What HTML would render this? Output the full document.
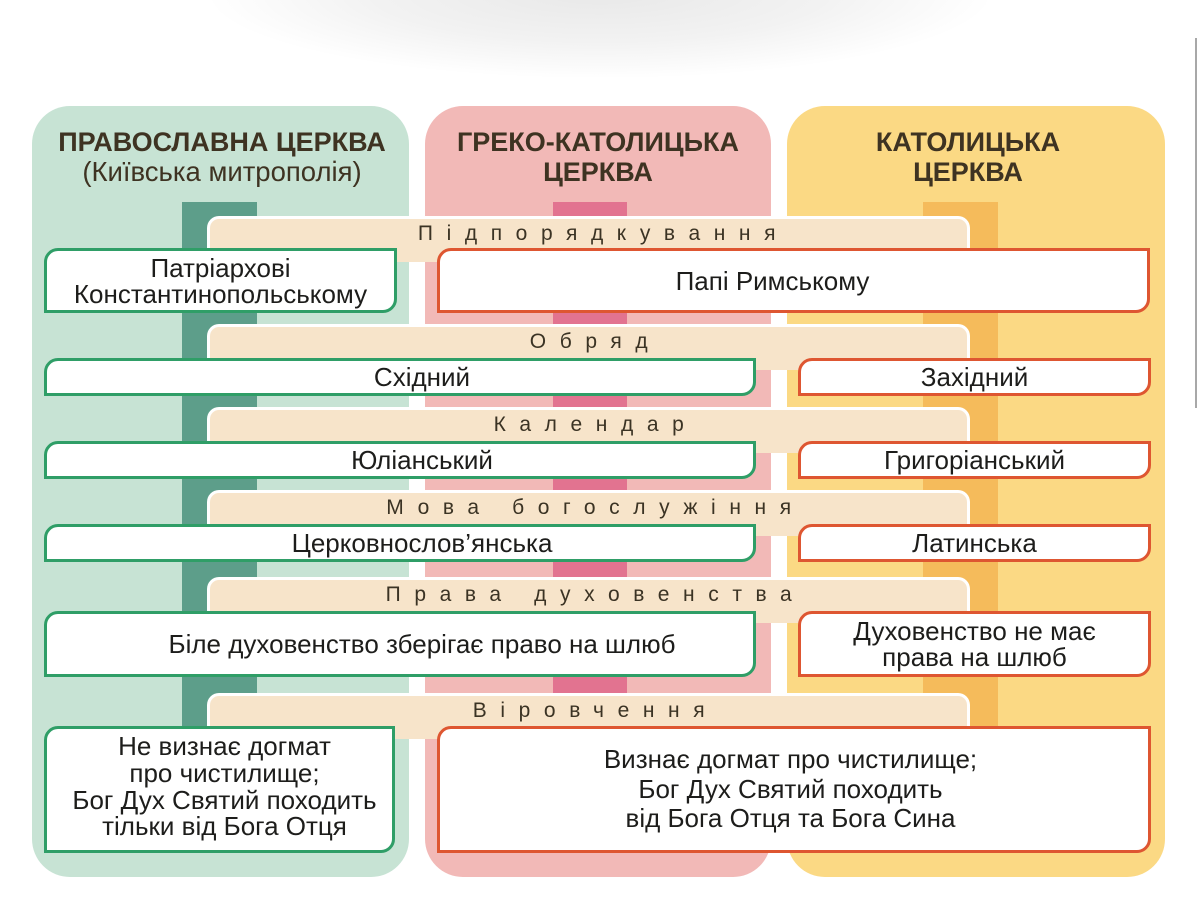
<!DOCTYPE html>
<html>
<head>
<meta charset="utf-8">
<style>
  html,body{margin:0;padding:0;}
  body{width:1200px;height:900px;position:relative;overflow:hidden;background:#fff;
       font-family:"Liberation Sans","Noto Sans CJK SC",sans-serif;color:#1d1d1b;}
  .abs{position:absolute;}
  .shadow{left:200px;top:-95px;width:800px;height:175px;border-radius:50%;
          background:radial-gradient(ellipse at center, rgba(0,0,0,0.09) 0%, rgba(0,0,0,0.05) 40%, rgba(0,0,0,0) 70%);}
  .scroll{left:1195px;top:38px;width:2px;height:370px;background:#a8a8a8;}
  .col{position:absolute;top:106px;height:771px;border-radius:38px;}
  .g{left:32px;width:377px;background:#c7e3d4;}
  .p{left:425px;width:346px;background:#f2b9b7;}
  .y{left:787px;width:378px;background:#fbd984;}
  .dbar{position:absolute;top:202px;height:530px;}
  .hdr{position:absolute;top:127px;text-align:center;font-size:27.5px;line-height:30px;color:#3e3322;white-space:nowrap;}
  .hdr b{font-weight:bold;font-size:27px;}
  .lbl{position:absolute;left:207px;width:763px;height:46px;box-sizing:border-box;
       background:#f7e4ca;border:3px solid #fff;border-bottom:none;border-radius:12px 12px 0 0;}
  .lbl span{position:absolute;left:0;right:0;top:2px;height:26px;line-height:26px;text-align:center;
       font-size:21px;letter-spacing:13.6px;padding-left:14px;color:#3b3324;}
  .box{position:absolute;box-sizing:border-box;background:#fff;border:3px solid;border-radius:14px 0 14px 0;
       display:flex;align-items:center;justify-content:center;text-align:center;font-size:26px;line-height:26px;white-space:nowrap;}
  .gb{border-color:#2f9e67;}
  .ob{border-color:#de5631;}
</style>
</head>
<body>
<div class="abs shadow"></div>
<div class="abs scroll"></div>

<div class="col g"></div>
<div class="col p"></div>
<div class="col y"></div>

<div class="dbar" style="left:182px;width:75px;background:#5d9e8a;"></div>
<div class="dbar" style="left:553px;width:74px;background:#e27390;"></div>
<div class="dbar" style="left:923px;width:75px;background:#f5bb5b;"></div>

<div class="hdr" style="left:32px;width:380px;"><b>ПРАВОСЛАВНА ЦЕРКВА</b><br>(Київська митрополія)</div>
<div class="hdr" style="left:425px;width:346px;"><b>ГРЕКО-КАТОЛИЦЬКА<br>ЦЕРКВА</b></div>
<div class="hdr" style="left:779px;width:378px;"><b>КАТОЛИЦЬКА<br>ЦЕРКВА</b></div>

<div class="lbl" style="top:216px;"><span style="padding-left:30px;">Підпорядкування</span></div>
<div class="lbl" style="top:324px;"><span>Обряд</span></div>
<div class="lbl" style="top:407px;"><span>Календар</span></div>
<div class="lbl" style="top:490px;"><span>Мова богослужіння</span></div>
<div class="lbl" style="top:577px;"><span>Права духовенства</span></div>
<div class="lbl" style="top:693px;"><span>Віровчення</span></div>

<!-- Row 1 -->
<div class="box gb" style="left:44px;top:248px;width:353px;height:65px;">Патріархові<br>Константинопольському</div>
<div class="box ob" style="left:437px;top:248px;width:713px;height:65px;padding-right:42px;">Папі Римському</div>

<!-- Row 2 -->
<div class="box gb" style="left:44px;top:358px;width:712px;height:38px;padding-left:44px;">Східний</div>
<div class="box ob" style="left:798px;top:358px;width:353px;height:38px;">Західний</div>

<!-- Row 3 -->
<div class="box gb" style="left:44px;top:441px;width:712px;height:38px;padding-left:44px;">Юліанський</div>
<div class="box ob" style="left:798px;top:441px;width:353px;height:38px;">Григоріанський</div>

<!-- Row 4 -->
<div class="box gb" style="left:44px;top:524px;width:712px;height:38px;padding-left:44px;">Церковнослов’янська</div>
<div class="box ob" style="left:798px;top:524px;width:353px;height:38px;">Латинська</div>

<!-- Row 5 -->
<div class="box gb" style="left:44px;top:611px;width:712px;height:66px;padding-left:44px;">Біле духовенство зберігає право на шлюб</div>
<div class="box ob" style="left:798px;top:611px;width:353px;height:66px;">Духовенство не має<br>права на шлюб</div>

<!-- Row 6 -->
<div class="box gb" style="left:44px;top:726px;width:351px;height:127px;padding-left:10px;line-height:26.7px;padding-bottom:6px;">Не визнає догмат<br>про чистилище;<br>Бог Дух Святий походить<br>тільки від Бога Отця</div>
<div class="box ob" style="left:437px;top:726px;width:714px;height:127px;padding-right:7px;line-height:29.5px;">Визнає догмат про чистилище;<br>Бог Дух Святий походить<br>від Бога Отця та Бога Сина</div>

</body>
</html>
